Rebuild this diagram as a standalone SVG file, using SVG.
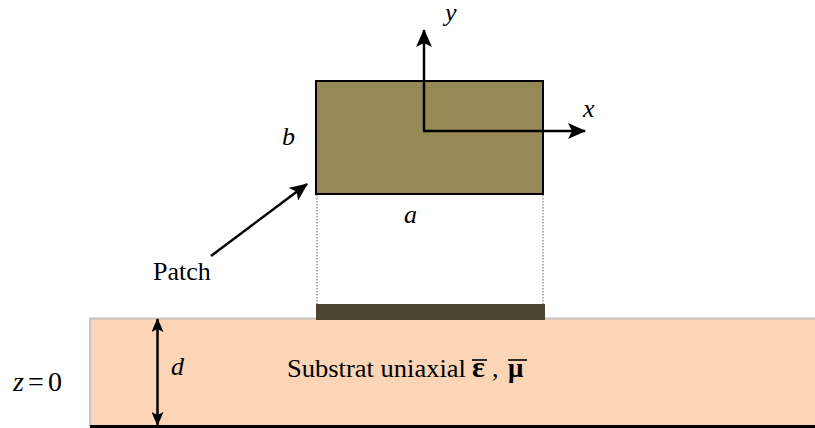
<svg xmlns="http://www.w3.org/2000/svg" width="815" height="428" viewBox="0 0 815 428">
<style>
text{font-family:"Liberation Serif","Times New Roman",Times,serif;fill:#000}
.i{font-style:italic}
.ax{stroke:#000;stroke-width:2.5;fill:none}
.dot{stroke:#666;stroke-width:1;stroke-dasharray:1.5,1.5;fill:none}
.bar{stroke:#000;stroke-width:1.6}
</style>
<defs>
<marker id="ah" markerUnits="userSpaceOnUse" markerWidth="18" markerHeight="16" refX="17" refY="8" orient="auto-start-reverse" viewBox="0 0 18 16">
<path d="M0,0 L18,8 L0,16 L4,8 Z" fill="#000"/>
</marker>
<marker id="ah2" markerUnits="userSpaceOnUse" markerWidth="14" markerHeight="12" refX="13" refY="6" orient="auto-start-reverse" viewBox="0 0 14 12">
<path d="M0,0 L14,6 L0,12 L3,6 Z" fill="#000"/>
</marker>
</defs>
<rect width="815" height="428" fill="#fff"/>
<g id="substrate">
<rect x="90" y="318" width="730" height="108" fill="#FBD5B5"/>
<path d="M90,426 L90,318.5 L815,318.5" stroke="#c4c4c4" stroke-width="2" fill="none"/>
<line x1="90" y1="426.5" x2="815" y2="426.5" stroke="#000" stroke-width="3"/>
<text x="287" y="377" font-size="26" textLength="179" lengthAdjust="spacingAndGlyphs">Substrat uniaxial</text>
<text x="472" y="377" font-size="30" font-weight="bold">ε</text>
<line class="bar" x1="472" y1="360" x2="487" y2="360"/>
<text x="492" y="377" font-size="26">,</text>
<text x="508" y="377" font-size="27" font-weight="bold">μ</text>
<line class="bar" x1="508" y1="360" x2="527" y2="360"/>
</g>
<g id="patch-strip">
<rect x="316" y="304" width="229" height="16" fill="#4B4530"/>
</g>
<g id="patch">
<rect x="316" y="81" width="227" height="113" fill="#958A55" stroke="#000" stroke-width="2"/>
</g>
<g id="connectors">
<line class="dot" x1="317" y1="195" x2="317" y2="304"/>
<line class="dot" x1="543" y1="195" x2="543" y2="304"/>
<line class="ax" x1="424" y1="131" x2="424" y2="30" marker-end="url(#ah)"/>
<line class="ax" x1="423" y1="131" x2="585" y2="131" marker-end="url(#ah)"/>
<line class="ax" x1="211" y1="256" x2="307" y2="184" marker-end="url(#ah)"/>
<line class="ax" x1="157.5" y1="319" x2="157.5" y2="425" marker-start="url(#ah2)" marker-end="url(#ah2)"/>
</g>
<g id="labels">
<text class="i" x="445" y="21" font-size="26">y</text>
<text class="i" x="583" y="117" font-size="26">x</text>
<text class="i" x="282" y="145" font-size="26">b</text>
<text class="i" x="404" y="223" font-size="26">a</text>
<text x="153" y="280" font-size="26">Patch</text>
<text class="i" x="171" y="375" font-size="26">d</text>
<text class="i" x="13" y="391" font-size="28">z</text>
<text x="28" y="391" font-size="28">=</text>
<text x="48" y="391" font-size="28">0</text>
</g>
</svg>
